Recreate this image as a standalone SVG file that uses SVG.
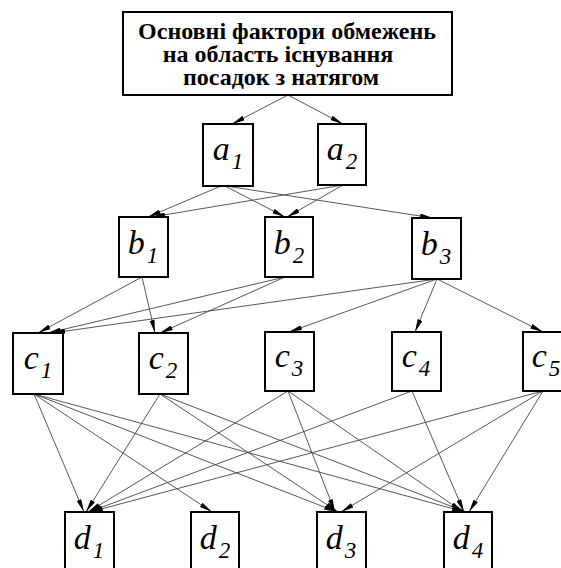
<svg xmlns="http://www.w3.org/2000/svg" width="561" height="568" viewBox="0 0 561 568">
<style>
.box{fill:#fff;stroke:#000;stroke-width:2}
.edge{fill:none;stroke:#444;stroke-width:0.9;marker-end:url(#ah)}
.title{font-family:"Liberation Serif","Times New Roman",serif;font-weight:bold;font-size:24px;fill:#000;text-anchor:middle}
.lbl{font-family:"Liberation Serif","Times New Roman",serif;font-style:italic;font-size:34px;fill:#000;text-anchor:middle}
.sub{font-size:23px}
</style>
<defs>
<marker id="ah" viewBox="0 0 13 5" refX="13" refY="2.5" markerWidth="13" markerHeight="5" markerUnits="userSpaceOnUse" orient="auto">
<path d="M0,0 L13,2.5 L0,5 Z" fill="#000"/>
</marker>
</defs>
<rect width="561" height="568" fill="#fff"/>
<g id="connectors">
<path class="edge" d="M288,95 L232,124"/>
<path class="edge" d="M288,95 L343,124"/>
<path class="edge" d="M221,186 L148,217"/>
<path class="edge" d="M225,186 L285,217"/>
<path class="edge" d="M226,186 L433,218"/>
<path class="edge" d="M343,185 L152,217"/>
<path class="edge" d="M343,185 L287,217"/>
<path class="edge" d="M142,277 L38,333"/>
<path class="edge" d="M142,277 L155,333"/>
<path class="edge" d="M285,277 L48,333"/>
<path class="edge" d="M285,277 L160,333"/>
<path class="edge" d="M437,279 L52,333"/>
<path class="edge" d="M437,279 L289,332"/>
<path class="edge" d="M437,279 L415,332"/>
<path class="edge" d="M437,279 L543,332"/>
<path class="edge" d="M34,394 L84,512"/>
<path class="edge" d="M34,394 L212,512"/>
<path class="edge" d="M34,394 L337,512"/>
<path class="edge" d="M34,394 L465,512"/>
<path class="edge" d="M160,394 L86,512"/>
<path class="edge" d="M160,394 L338,512"/>
<path class="edge" d="M160,394 L466,512"/>
<path class="edge" d="M288,391 L88,512"/>
<path class="edge" d="M288,391 L335,512"/>
<path class="edge" d="M288,391 L463,512"/>
<path class="edge" d="M412,391 L89,512"/>
<path class="edge" d="M412,391 L464,512"/>
<path class="edge" d="M543,391 L90,512"/>
<path class="edge" d="M543,391 L341,512"/>
<path class="edge" d="M543,391 L469,512"/>
</g>
<g id="title">
<rect class="box" x="123" y="12" width="329" height="83"/>
<text class="title" x="287" y="39">Основні фактори обмежень</text>
<text class="title" x="278" y="62">на область існування</text>
<text class="title" x="281" y="85">посадок з натягом</text>
</g>
<g id="a1"><rect class="box" x="203" y="124" width="50" height="62"/><text class="lbl" x="228" y="160">a<tspan class="sub" dx="2" dy="9">1</tspan></text></g>
<g id="a2"><rect class="box" x="318" y="124" width="48" height="61"/><text class="lbl" x="342" y="160">a<tspan class="sub" dx="2" dy="9">2</tspan></text></g>
<g id="b1"><rect class="box" x="119" y="217" width="49" height="60"/><text class="lbl" x="143" y="254">b<tspan class="sub" dx="2" dy="9">1</tspan></text></g>
<g id="b2"><rect class="box" x="265" y="217" width="48" height="60"/><text class="lbl" x="289" y="254">b<tspan class="sub" dx="2" dy="9">2</tspan></text></g>
<g id="b3"><rect class="box" x="412" y="218" width="49" height="61"/><text class="lbl" x="436" y="255">b<tspan class="sub" dx="2" dy="9">3</tspan></text></g>
<g id="c1"><rect class="box" x="13" y="333" width="50" height="61"/><text class="lbl" x="38" y="369">c<tspan class="sub" dx="2" dy="9">1</tspan></text></g>
<g id="c2"><rect class="box" x="139" y="333" width="49" height="61"/><text class="lbl" x="163" y="369">c<tspan class="sub" dx="2" dy="9">2</tspan></text></g>
<g id="c3"><rect class="box" x="265" y="332" width="49" height="59"/><text class="lbl" x="289" y="367">c<tspan class="sub" dx="2" dy="9">3</tspan></text></g>
<g id="c4"><rect class="box" x="392" y="332" width="49" height="59"/><text class="lbl" x="416" y="367">c<tspan class="sub" dx="2" dy="9">4</tspan></text></g>
<g id="c5"><rect class="box" x="523" y="332" width="50" height="59"/><text class="lbl" x="546" y="367">c<tspan class="sub" dx="2" dy="9">5</tspan></text></g>
<g id="d1"><rect class="box" x="65" y="512" width="49" height="62"/><text class="lbl" x="89" y="549">d<tspan class="sub" dx="2" dy="9">1</tspan></text></g>
<g id="d2"><rect class="box" x="191" y="512" width="48" height="62"/><text class="lbl" x="215" y="549">d<tspan class="sub" dx="2" dy="9">2</tspan></text></g>
<g id="d3"><rect class="box" x="317" y="512" width="49" height="62"/><text class="lbl" x="341" y="549">d<tspan class="sub" dx="2" dy="9">3</tspan></text></g>
<g id="d4"><rect class="box" x="444" y="512" width="48" height="62"/><text class="lbl" x="468" y="549">d<tspan class="sub" dx="2" dy="9">4</tspan></text></g>
</svg>
